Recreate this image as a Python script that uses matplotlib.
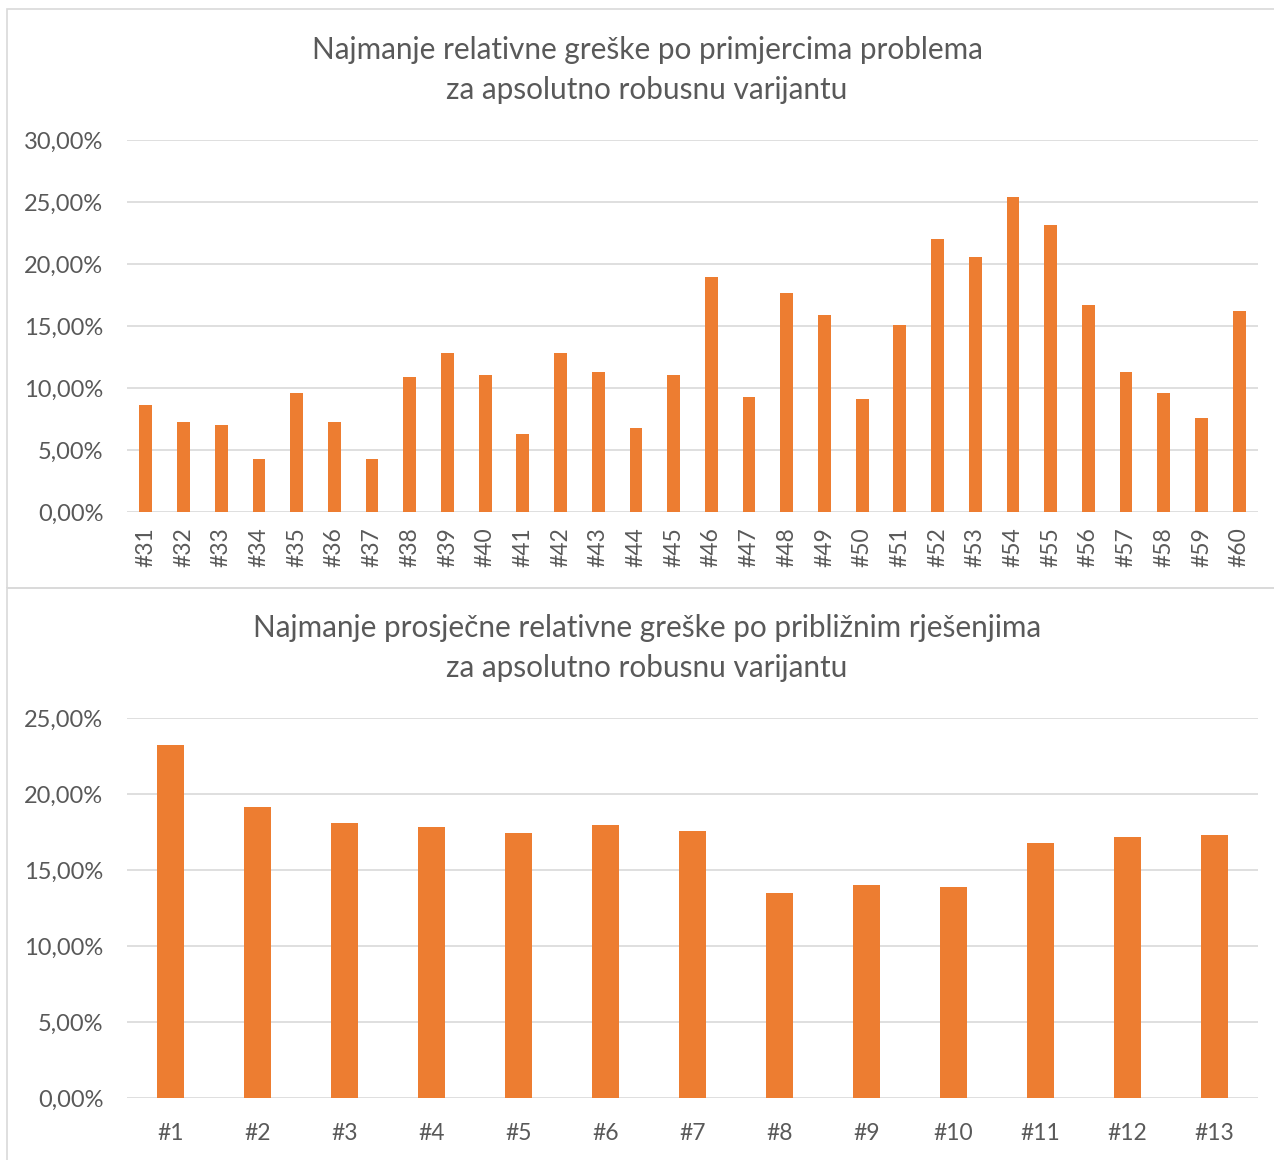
import matplotlib
matplotlib.use("Agg")
import matplotlib.pyplot as plt
from matplotlib.patches import Rectangle
from matplotlib.ticker import FuncFormatter

plt.rcParams['font.family'] = ['Lato', 'DejaVu Sans']

# ---- data ----
top_title = "Najmanje relativne greške po primjercima problema\nza apsolutno robusnu varijantu"
top_labels = ["#%d" % i for i in range(31, 61)]
top_values = [8.59, 7.29, 6.98, 4.25, 9.57, 7.29, 4.25, 10.87, 12.82, 11.02,
              6.32, 12.82, 11.33, 6.80, 11.02, 18.92, 9.26, 17.64, 15.88, 9.11,
              15.06, 22.02, 20.56, 25.39, 23.14, 16.67, 11.33, 9.57, 7.62, 16.19]
top_ticks = [0, 5, 10, 15, 20, 25, 30]

bot_title = "Najmanje prosječne relativne greške po približnim rješenjima\nza apsolutno robusnu varijantu"
bot_labels = ["#%d" % i for i in range(1, 14)]
bot_values = [23.23, 19.14, 18.09, 17.80, 17.44, 17.94, 17.56, 13.47, 13.99,
              13.85, 16.77, 17.15, 17.27]
bot_ticks = [0, 5, 10, 15, 20, 25]

W, H = 1274, 1160
DPI = 100
BAR = "#ED7D31"
GRID = "#D9D9D9"
TXT = "#595959"

fig = plt.figure(figsize=(W / DPI, H / DPI), dpi=DPI)
fig.patch.set_facecolor("white")

def px_rect(l, t, r, b):
    return [l / W, 1 - b / H, (r - l) / W, (b - t) / H]

# panel borders
for (t, b) in [(9, 588), (588, 1175)]:
    fig.patches.append(Rectangle((7 / W, 1 - b / H), (1290 - 7) / W, (b - t) / H,
                                 transform=fig.transFigure, fill=False,
                                 edgecolor=GRID, lw=1.2))

fmt = FuncFormatter(lambda v, p: ("%.2f%%" % v).replace(".", ","))

def style(ax, ticks):
    ax.set_ylim(ticks[0], ticks[-1])
    ax.set_yticks(ticks)
    ax.yaxis.set_major_formatter(fmt)
    for s in ax.spines.values():
        s.set_visible(False)
    ax.grid(axis="y", color=GRID, lw=1.2)
    ax.set_axisbelow(True)
    ax.tick_params(axis="y", length=0, pad=17, labelsize=17, labelcolor=TXT)

# top chart
ax1 = fig.add_axes(px_rect(127, 140, 1258, 512))
x1 = range(len(top_labels))
ax1.bar(x1, top_values, width=0.34, color=BAR, zorder=3)
ax1.set_xlim(-0.5, len(top_labels) - 0.5)
style(ax1, top_ticks)
ax1.set_xticks(list(x1))
ax1.set_xticklabels(top_labels, rotation=90, va="top", ha="center")
ax1.tick_params(axis="x", length=0, pad=11, labelsize=16.5, labelcolor=TXT)

# bottom chart
ax2 = fig.add_axes(px_rect(127, 718, 1258, 1098))
x2 = range(len(bot_labels))
ax2.bar(x2, bot_values, width=0.30, color=BAR, zorder=3)
ax2.set_xlim(-0.5, len(bot_labels) - 0.5)
style(ax2, bot_ticks)
ax2.set_xticks(list(x2))
ax2.set_xticklabels(bot_labels)
ax2.tick_params(axis="x", length=0, pad=18, labelsize=16.5, labelcolor=TXT)

fig.text(647 / W, 1 - 70 / H, top_title, ha="center", va="center",
         fontsize=21.4, color=TXT, linespacing=1.52)
fig.text(647 / W, 1 - 648 / H, bot_title, ha="center", va="center",
         fontsize=21.4, color=TXT, linespacing=1.52)

fig.savefig("out.png", dpi=DPI, facecolor="white")
